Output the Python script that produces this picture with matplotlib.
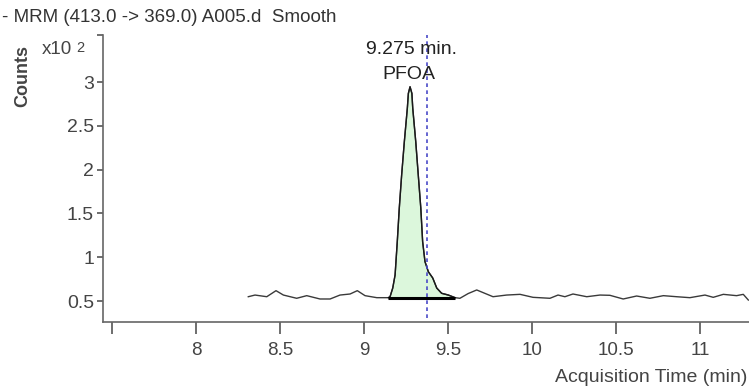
import matplotlib
matplotlib.use("Agg")
import matplotlib.pyplot as plt

plt.rcParams['font.family'] = ['Liberation Sans', 'DejaVu Sans']

# ---- data (time in min, counts x10^2) ----
time_min = [8.311, 8.351, 8.421, 8.476, 8.520, 8.599, 8.659, 8.738, 8.798, 8.857,
            8.917, 8.960, 9.006, 9.076, 9.145,
            9.155, 9.171, 9.185, 9.198, 9.210, 9.224, 9.240, 9.258, 9.264, 9.274,
            9.285, 9.290, 9.308, 9.323, 9.338, 9.349, 9.363, 9.383, 9.409, 9.433,
            9.462, 9.502, 9.542, 9.571,
            9.620, 9.671, 9.768, 9.849, 9.929, 10.006, 10.107, 10.155, 10.196,
            10.244, 10.326, 10.405, 10.464, 10.543, 10.623, 10.702, 10.782,
            10.861, 10.940, 11.030, 11.079, 11.139, 11.218, 11.258, 11.288]
counts = [0.549, 0.568, 0.549, 0.618, 0.568, 0.531, 0.561, 0.523, 0.523, 0.568,
          0.580, 0.618, 0.561, 0.538, 0.538,
          0.549, 0.648, 0.797, 1.177, 1.562, 1.938, 2.318, 2.703, 2.870, 2.946,
          2.870, 2.703, 2.318, 1.938, 1.562, 1.177, 0.949, 0.834, 0.763, 0.648,
          0.588, 0.568, 0.538, 0.531,
          0.585, 0.626, 0.549, 0.568, 0.576, 0.542, 0.531, 0.568, 0.549,
          0.580, 0.549, 0.568, 0.565, 0.523, 0.557, 0.531, 0.561,
          0.549, 0.538, 0.568, 0.542, 0.576, 0.561, 0.576, 0.511]

peak_start = 9.145
peak_end = 9.542
peak_base = 0.538
peak_rt = 9.275
expected_rt = 9.375
peak_name = "PFOA"

xticks = [7.5, 8, 8.5, 9, 9.5, 10, 10.5, 11]
xtick_labels = ["", "8", "8.5", "9", "9.5", "10", "10.5", "11"]
yticks = [0.5, 1, 1.5, 2, 2.5, 3]
ytick_labels = ["0.5", "1", "1.5", "2", "2.5", "3"]

xlim = (7.446, 11.292)
ylim = (0.266, 3.537)

fig = plt.figure(figsize=(7.49, 3.88), dpi=100)
ax = fig.add_axes([103/749, 1 - 321.5/388, 1 - 103/749, (321.5 - 35)/388])

ax.set_xlim(*xlim)
ax.set_ylim(*ylim)

# peak fill
pk_t = [t for t in time_min if peak_start <= t <= peak_end]
pk_c = [c for t, c in zip(time_min, counts) if peak_start <= t <= peak_end]
ax.fill_between(pk_t, pk_c, peak_base, color="#dcf7dc", zorder=1, lw=0)

ax.plot(time_min, counts, color="#3a3a3a", lw=1.0, zorder=3)
ax.plot(pk_t, pk_c, color="#1a1a1a", lw=1.0, zorder=4)
ax.plot([peak_start, peak_end], [peak_base, peak_base], color="black", lw=2.2,
        zorder=5, solid_capstyle="butt")

ax.axvline(expected_rt, ymin=0.012, ymax=1.0, color="#4a4ac8", lw=1.2,
           linestyle=(0, (2.2, 2.0)), zorder=6)

ax.text(9.28, 3.37, f"{peak_rt:.3f} min.", ha="center", va="center",
        fontsize=14, color="#222222", zorder=7)
ax.text(9.27, 3.09, peak_name, ha="center", va="center",
        fontsize=14, color="#222222", zorder=7)

for s in ["top", "right"]:
    ax.spines[s].set_visible(False)
for s in ["left", "bottom"]:
    ax.spines[s].set_color("#666666")
    ax.spines[s].set_linewidth(1.2)

ax.set_xticks(xticks)
ax.set_xticklabels(xtick_labels)
ax.set_yticks(yticks + [ylim[1]])
ax.set_yticklabels(ytick_labels + [""])
ax.tick_params(axis="x", direction="out", length=8.5, width=1.2, colors="#555555",
               labelsize=13.5, labelcolor="#444444", pad=6)
ax.tick_params(axis="y", direction="out", length=4.5, width=1.2, colors="#555555",
               labelsize=14, labelcolor="#444444", pad=2)

fig.text(2/749, 1 - 17/388, "- MRM (413.0 -> 369.0) A005.d  Smooth", ha="left",
         va="center", fontsize=13.5, color="#333333")
fig.text(22.5/749, 1 - 76/388, "Counts", rotation=90, ha="center", va="center",
         fontsize=13, fontweight="bold", color="#444444")
fig.text(42/749, 1 - 50/388, "x10", ha="left", va="center", fontsize=13.5,
         color="#444444")
fig.text(76/749, 1 - 48/388, "2", ha="left", va="center", fontsize=10.5,
         color="#444444")
fig.text(747/749, 1 - 378/388, "Acquisition Time (min)", ha="right", va="center",
         fontsize=14, color="#444444")

fig.savefig("out.png", dpi=100)
